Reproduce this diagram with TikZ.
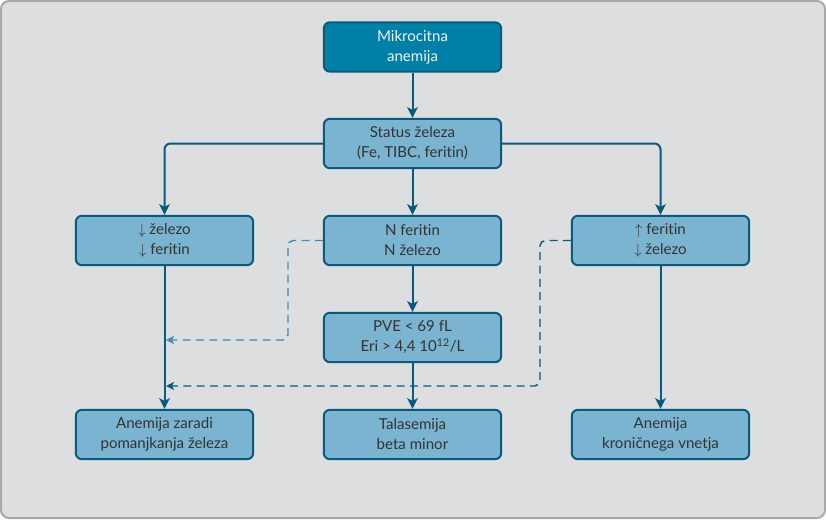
\documentclass[tikz,border=0pt]{standalone}
\usepackage{fontspec}
\setmainfont{Lato}[Ligatures=NoCommon]
\usetikzlibrary{arrows.meta}
\definecolor{bgc}{HTML}{DCDEE0}
\definecolor{framec}{HTML}{A9A9A9}
\definecolor{linec}{HTML}{0A5A7D}
\definecolor{dashc}{HTML}{3D8FB0}
\definecolor{boxc}{HTML}{7AB4D0}
\definecolor{topc}{HTML}{0080A6}
\definecolor{textc}{HTML}{333333}
\tikzset{
  box/.style={draw=linec, fill=boxc, line width=1.5pt, rounded corners=4.5pt,
    minimum width=133pt, minimum height=37pt, inner sep=0pt, align=center,
    text=textc, font=\fontsize{11.3}{15}\selectfont},
  topbox/.style={box, fill=topc, text=white!92!topc},
  arr/.style={draw=linec, line width=1.5pt, rounded corners=4.5pt,
    -{Stealth[length=8pt,width=8pt,inset=2pt]}},
  darr/.style={draw=linec, line width=1.1pt, dash pattern=on 6pt off 4pt,
    rounded corners=4pt, -{Stealth[length=6pt,width=6pt,inset=1.5pt]}}
}
\begin{document}
\begin{tikzpicture}[x=0.75pt,y=-0.75pt]
  \useasboundingbox (0,0) rectangle (826,519);
  \draw[framec, fill=bgc, line width=1.5pt, rounded corners=6pt] (1,1) rectangle (825,518);

  \node[topbox] (mik) at (412.5,47) {Mikrocitna\\anemija};
  \node[box] (stat) at (412.5,143.5) {Status železa\\(Fe, TIBC, feritin)};
  \node[box] (lo) at (164.5,240.5) {$\downarrow$ železo\\$\downarrow$ feritin};
  \node[box] (nf) at (412.5,240.5) {N feritin\\N železo};
  \node[box] (hi) at (660.5,240.5) {$\uparrow$ feritin\\$\downarrow$ železo};
  \node[box] (pve) at (412.5,337.5) {PVE < 69 fL\\Eri > 4,4 10\textsuperscript{12}/L};
  \node[box] (ane) at (164.5,434.5) {Anemija zaradi\\pomanjkanja železa};
  \node[box] (tal) at (412.5,434.5) {Talasemija\\beta minor};
  \node[box] (kro) at (660.5,434.5) {Anemija\\kroničnega vnetja};

  \coordinate (j1) at (166,340);
  \coordinate (j2) at (166,386);

  \draw[arr] (mik) -- (stat);
  \draw[arr] (stat.west) -| (lo);
  \draw[arr] (stat.east) -| (hi);
  \draw[arr] (stat) -- (nf);
  \draw[arr] (nf) -- (pve);
  \draw[arr] (pve) -- (tal);
  \draw[arr] (lo) -- (ane);
  \draw[arr] (hi) -- (kro);
  \draw[darr, draw=dashc] (nf.west) -- (288,240.5) |- (j1);
  \draw[darr] (hi.west) -- (540,240.5) |- (j2);
\end{tikzpicture}
\end{document}
